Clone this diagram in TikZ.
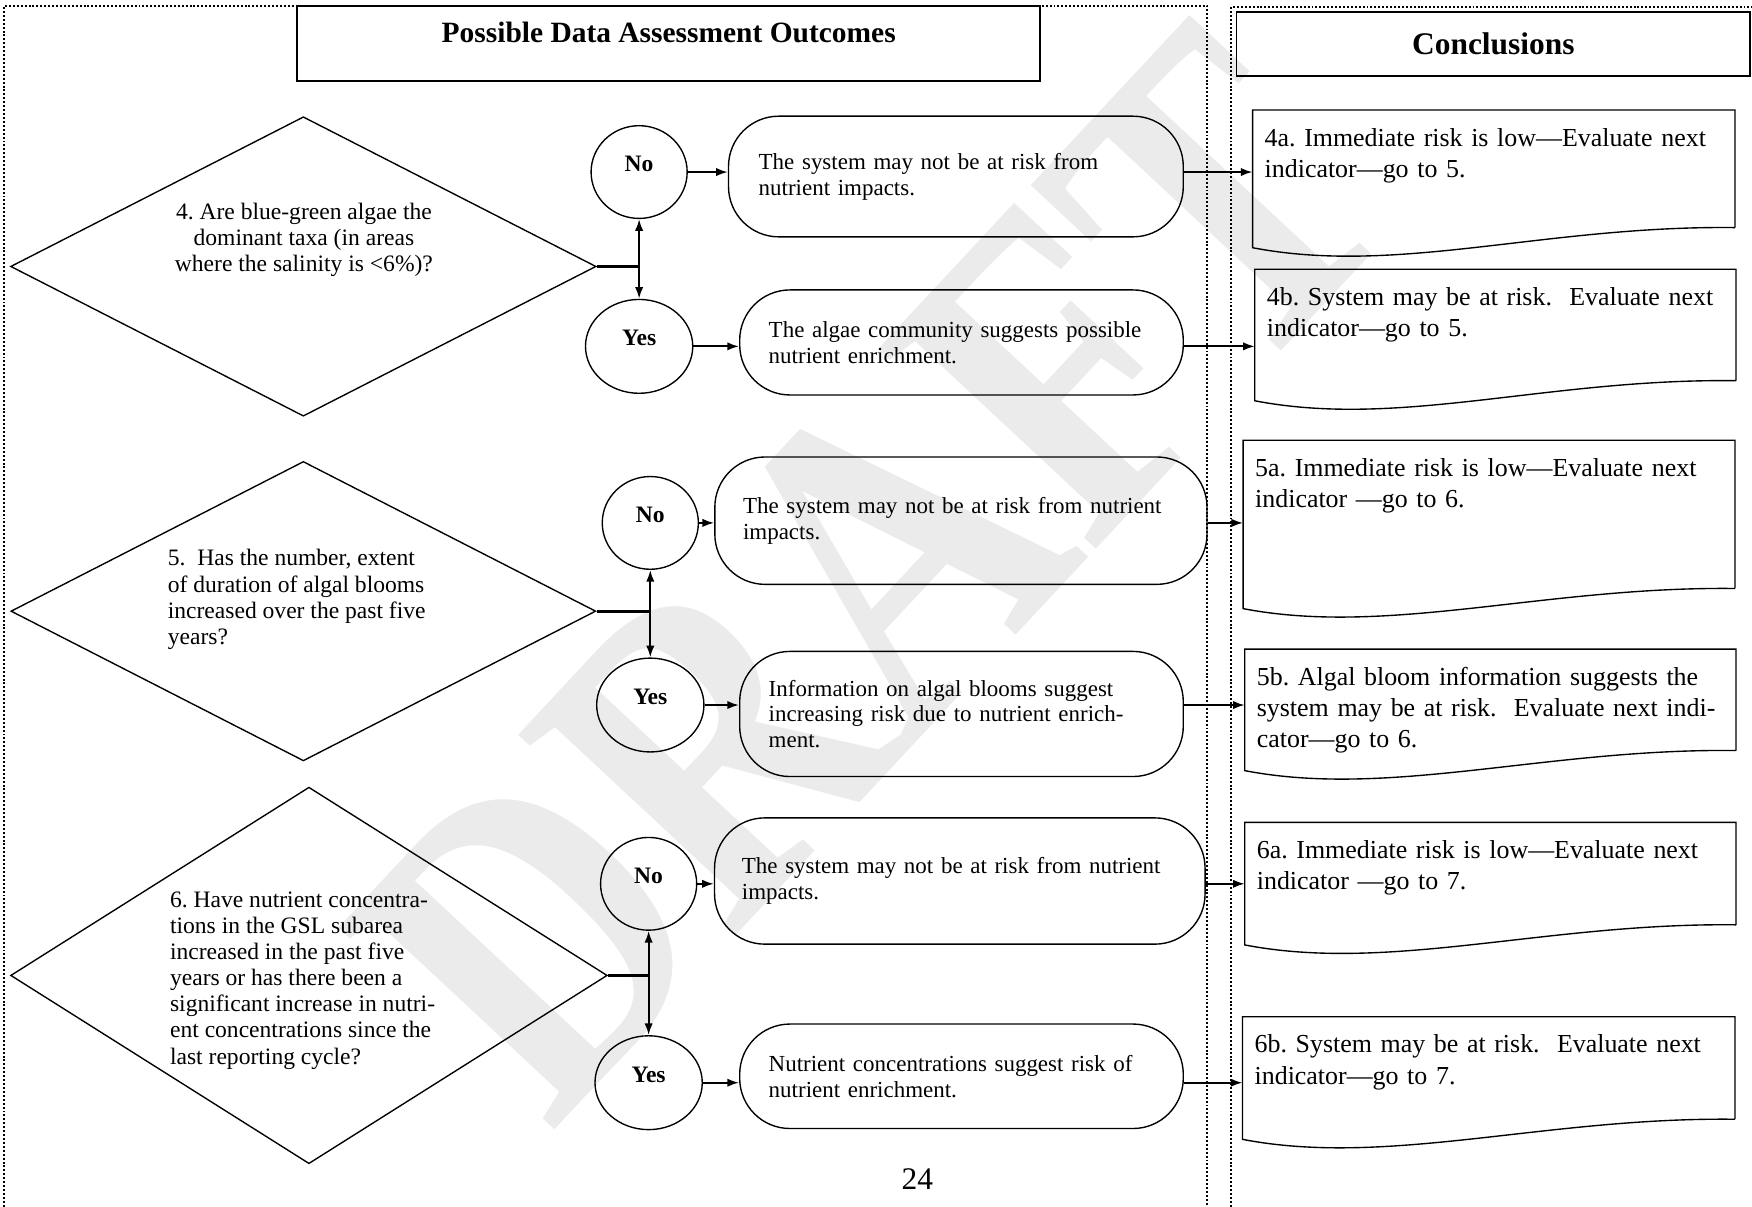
\documentclass[tikz,border=0pt]{standalone}
\usepackage{fontspec}
\setmainfont{Liberation Serif}
\usetikzlibrary{shapes.geometric,arrows.meta,positioning}
\frenchspacing

\begin{document}
\begin{tikzpicture}[
    frame/.style={densely dotted, line width=1pt},
    heading/.style={draw, line width=0.8pt, inner sep=0pt},
    question/.style={diamond, draw, line width=0.7pt, inner sep=0pt},
    qtext/.style={font=\fontsize{12}{13.3}\selectfont},
    answer/.style={ellipse, draw, line width=0.7pt, inner sep=0pt, text depth=0.3cm,
      font=\fontsize{12}{14}\selectfont\bfseries},
    outcome/.style={rectangle, rounded corners=0.9cm, draw, line width=0.7pt, align=left,
      font=\fontsize{11.7}{13.1}\selectfont},
    concl/.style={anchor=north west, align=left, text width=#1, inner xsep=0.21cm,
      inner ysep=0.22cm, text height=0.42cm, font=\fontsize{13.2}{15.9}\selectfont},
    flow/.style={-{Latex[length=0.21cm,width=0.15cm]}, line width=1pt},
    twoway/.style={{Latex[length=0.21cm,width=0.15cm]}-{Latex[length=0.21cm,width=0.15cm]}, line width=1pt},
    branch/.style={line width=1.4pt}
  ]
  \useasboundingbox (0,0) rectangle (31.36,21.6);
  \node[rotate=47, xscale=0.81, text=gray!16, font=\fontsize{230}{230}\selectfont\bfseries] (draft) at (15.6,11.35) {DRAFT};

  \draw[frame] (0.08,0) -- (0.08,21.5) -- (21.61,21.5) -- (21.61,0);
  \draw[frame] (22.04,0) -- (22.04,21.48) -- (31.36,21.48);

  \node[heading, minimum width=13.3cm, minimum height=1.34cm, text depth=0.4cm,
    font=\fontsize{15}{18}\selectfont\bfseries] (outcomes) at (11.97,20.82) {Possible Data Assessment Outcomes};
  \node[heading, minimum width=9.19cm, minimum height=1.14cm,
    font=\fontsize{16}{19}\selectfont\bfseries] (conclusions) at (26.73,20.81) {Conclusions};

  % question 4
  \node[question, minimum width=10.48cm, minimum height=5.36cm] (q4) at (5.43,16.83) {};
  \node[qtext, align=center] (q4text) at (5.44,17.31) {4. Are blue-green algae the\\dominant taxa (in areas\\where the salinity is <6\%)?};
  \node[answer, minimum width=1.72cm, minimum height=1.66cm] (no4) at (11.44,18.52) {No};
  \node[answer, minimum width=1.92cm, minimum height=1.68cm] (yes4) at (11.44,15.4) {Yes};
  \node[outcome, minimum width=8.14cm, minimum height=2.16cm, text width=7.06cm] (outno4) at (17.11,18.44)
    {The system may not be at risk from\\nutrient impacts.};
  \node[outcome, minimum width=7.94cm, minimum height=1.88cm, text width=6.9cm] (outyes4) at (17.21,15.47)
    {The algae community suggests possible\\nutrient enrichment.};
  \node[concl=8.2cm, text depth=1.23cm] (conno4) at (22.42,19.63)
    {4a. Immediate risk is low---Evaluate next\\indicator---go to 5.};
  \node[concl=8.18cm, text depth=1.12cm] (conyes4) at (22.46,16.78)
    {4b. System may be at risk.\ \ Evaluate next\\indicator---go to 5.};

  % question 5
  \node[question, minimum width=10.47cm, minimum height=5.36cm] (q5) at (5.43,10.66) {};
  \node[qtext, align=left, anchor=west] (q5text) at (2.88,10.87) {5.\ \ Has the number, extent\\of duration of algal blooms\\increased over the past five\\years?};
  \node[answer, minimum width=1.72cm, minimum height=1.66cm] (no5) at (11.64,12.24) {No};
  \node[answer, minimum width=1.92cm, minimum height=1.68cm] (yes5) at (11.64,8.98) {Yes};
  \node[outcome, minimum width=8.81cm, minimum height=2.28cm, text width=7.8cm] (outno5) at (17.2,12.28)
    {The system may not be at risk from nutrient\\impacts.};
  \node[outcome, minimum width=7.94cm, minimum height=2.24cm, text width=6.9cm] (outyes5) at (17.21,8.82)
    {Information on algal blooms suggest\\increasing risk due to nutrient enrich-\\ment.};
  \node[concl=8.37cm, text depth=1.78cm] (conno5) at (22.25,13.72)
    {5a. Immediate risk is low---Evaluate next\\indicator ---go to 6.};
  \node[concl=8.36cm, text depth=0.94cm] (conyes5) at (22.28,9.98)
    {5b. Algal bloom information suggests the\\system may be at risk.\ \ Evaluate next indi-\\cator---go to 6.};

  % question 6
  \node[question, minimum width=10.68cm, minimum height=6.74cm] (q6) at (5.53,4.14) {};
  \node[qtext, align=left, anchor=west] (q6text) at (2.92,4.05) {6. Have nutrient concentra-\\tions in the GSL subarea\\increased in the past five\\years or has there been a\\significant increase in nutri-\\ent concentrations since the\\last reporting cycle?};
  \node[answer, minimum width=1.72cm, minimum height=1.66cm] (no6) at (11.61,5.78) {No};
  \node[answer, minimum width=1.92cm, minimum height=1.68cm] (yes6) at (11.61,2.22) {Yes};
  \node[outcome, minimum width=8.78cm, minimum height=2.26cm, text width=7.8cm] (outno6) at (17.18,5.83)
    {The system may not be at risk from nutrient\\impacts.};
  \node[outcome, minimum width=7.94cm, minimum height=1.87cm, text width=6.9cm] (outyes6) at (17.21,2.335)
    {Nutrient concentrations suggest risk of\\nutrient enrichment.};
  \node[concl=8.36cm, text depth=0.96cm] (conno6) at (22.28,6.88)
    {6a. Immediate risk is low---Evaluate next\\indicator ---go to 7.};
  \node[concl=8.38cm, text depth=0.96cm] (conyes6) at (22.24,3.4)
    {6b. System may be at risk.\ \ Evaluate next\\indicator---go to 7.};

  \foreach \c in {conno4,conyes4,conno5,conyes5,conno6,conyes6}
    \draw[line width=0.7pt] (\c.south east) -- (\c.north east) -- (\c.north west) -- ([yshift=-0.36cm]\c.south west)
      .. controls +(2.6,-0.5) and +(-3.4,0.04) .. (\c.south east);

  \foreach \s in {4,5,6} {
    \draw[branch] (q\s.east) -- (q\s.east -| no\s);
    \draw[twoway] (no\s) -- (yes\s);
    \draw[flow] (no\s) -- (no\s -| outno\s.west);
    \draw[flow] (yes\s) -- (yes\s -| outyes\s.west);
    \draw[flow] (outno\s.east |- no\s) -- (conno\s.west |- no\s);
    \draw[flow] (outyes\s.east |- yes\s) -- (conyes\s.west |- yes\s);
  }

  \node[font=\fontsize{16}{18}\selectfont] (pageno) at (16.42,0.5) {24};
\end{tikzpicture}
\end{document}
